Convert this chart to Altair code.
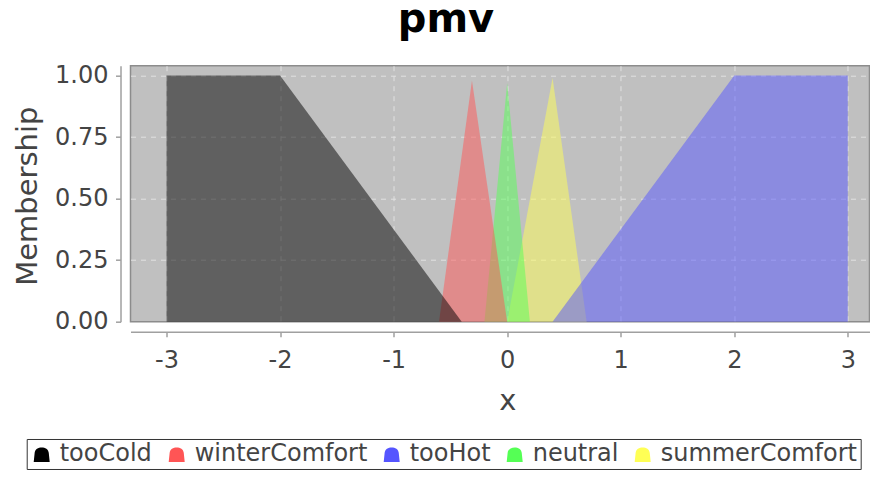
import altair as alt
import pandas as pd

# ---- data ----
series_names = ["tooCold", "winterComfort", "tooHot", "neutral", "summerComfort"]
series_colors = ["#000000", "#FF5555", "#5555FF", "#55FF55", "#FFFF55"]
draw_order = ["summerComfort", "neutral", "tooHot", "winterComfort", "tooCold"]

tooCold_x = [-3.0, -2.0, -0.4]
tooCold_y = [1.0, 1.0, 0.0]
winterComfort_x = [-0.6, -0.31, 0.0]
winterComfort_y = [0.0, 0.98, 0.0]
tooHot_x = [0.4, 2.0, 3.0]
tooHot_y = [0.0, 1.0, 1.0]
neutral_x = [-0.2, 0.0, 0.2]
neutral_y = [0.0, 0.97, 0.0]
summerComfort_x = [0.0, 0.4, 0.7]
summerComfort_y = [0.0, 0.99, 0.0]

x_ticks = [-3, -2, -1, 0, 1, 2, 3]
y_ticks = [0.0, 0.25, 0.5, 0.75, 1.0]

series_points = {
    "tooCold": (tooCold_x, tooCold_y),
    "winterComfort": (winterComfort_x, winterComfort_y),
    "tooHot": (tooHot_x, tooHot_y),
    "neutral": (neutral_x, neutral_y),
    "summerComfort": (summerComfort_x, summerComfort_y),
}

FONT = "DejaVu Sans"
dome = "M-1,1 L-0.88,-0.15 C-0.82,-1.05 0.82,-1.05 0.88,-0.15 L1,1 Z"
hide_zero = {"condition": {"test": "datum.value === 0", "value": 0}, "value": 1}

x_enc = alt.X(
    "xv:Q",
    scale=alt.Scale(domain=[-3.317, 3.191], nice=False, zero=False),
    axis=alt.Axis(
        values=x_ticks, labelExpr="datum.value + ''", title="x", offset=10, tickSize=5,
        labelPadding=12, titleX=376.8, titleY=78, titleBaseline="alphabetic",
        titleAlign="center",
    ),
)
y_enc = alt.Y(
    "mv:Q",
    stack=None,
    scale=alt.Scale(domain=[0, 1.04], nice=False),
    axis=alt.Axis(
        values=y_ticks, format=".2f", title="Membership", offset=10, tickSize=5,
        labelPadding=7.5, titleX=-84.5, titleY=130, titleAngle=270,
        titleBaseline="alphabetic", titleAlign="center", gridOpacity=hide_zero,
    ),
)
color_enc = alt.Color(
    "fset:N",
    scale=alt.Scale(domain=series_names, range=series_colors),
    legend=alt.Legend(
        orient="none", legendX=-103.8, legendY=373.3, direction="horizontal",
        title=None, symbolType=dome, symbolSize=256, symbolOpacity=1,
        symbolStrokeWidth=0, labelFontSize=24, labelFont=FONT,
        labelColor="#444", labelOffset=6, labelLimit=400, columnPadding=12,
        padding=3, strokeColor="#333",
    ),
)

layers = []
for name in draw_order:
    xs, ys = series_points[name]
    part = pd.DataFrame({"fset": [name] * len(xs), "xv": xs, "mv": ys})
    layers.append(
        alt.Chart(part)
        .mark_area(opacity=0.5, interpolate="linear")
        .encode(x=x_enc, y=y_enc, color=color_enc)
    )

chart = (
    alt.layer(*layers)
    .properties(
        width=739,
        height=256,
        autosize=alt.AutoSizeParams(type="none"),
        padding={"left": 122.5, "top": 57.7, "right": 0, "bottom": 149},
        title=alt.TitleParams(
            "pmv", fontSize=40, font=FONT, fontWeight="bold", color="#000000",
            anchor="middle", frame="group", dx=-54, offset=24,
        ),
    )
    .configure_view(fill="#c0c0c0", stroke="#8c8c8c", strokeWidth=1.5)
    .configure_axis(
        labelFont=FONT, labelFontSize=24, labelColor="#444",
        titleFont=FONT, titleFontSize=29, titleColor="#444", titleFontWeight="normal",
        domainColor="#a0a0a0", domainWidth=1.5, tickColor="#a0a0a0", tickWidth=1.5,
        grid=True, gridColor="#e2e2e2", gridDash=[5, 5], gridWidth=1,
    )
)

chart.save("out.html", embed_options={"renderer": "svg", "actions": False})
